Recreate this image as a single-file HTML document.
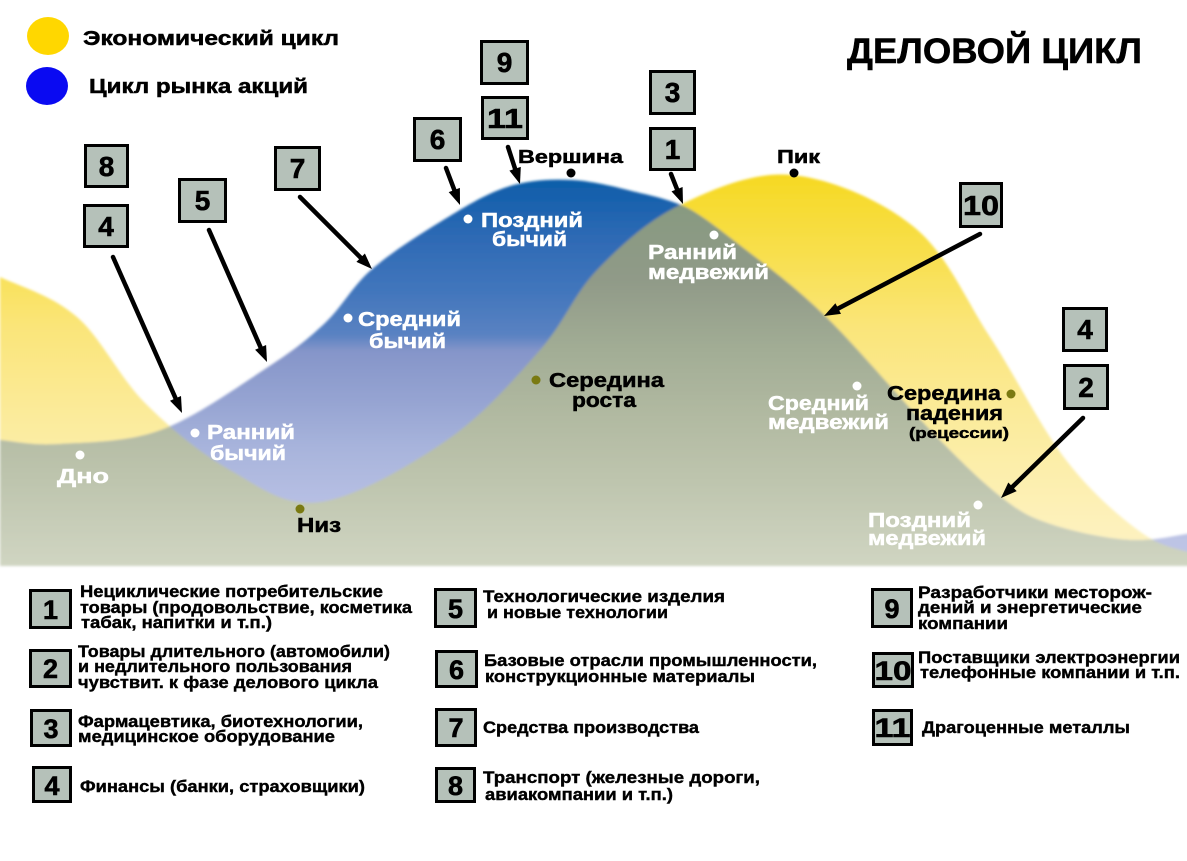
<!DOCTYPE html>
<html>
<head>
<meta charset="utf-8">
<style>
html,body{margin:0;padding:0;background:#fff;}
svg{display:block;}
text{font-family:"Liberation Sans","DejaVu Sans",sans-serif;font-weight:bold;}
</style>
</head>
<body>
<svg width="1187" height="861" viewBox="0 0 1187 861" xmlns="http://www.w3.org/2000/svg">
<defs>
  <linearGradient id="gy" gradientUnits="userSpaceOnUse" x1="0" y1="170" x2="0" y2="566">
    <stop offset="0" stop-color="#f6d820"/>
    <stop offset="0.2" stop-color="#f8df4a"/>
    <stop offset="0.4" stop-color="#fae57a"/>
    <stop offset="0.63" stop-color="#fbeb9c"/>
    <stop offset="0.83" stop-color="#fdf0b4"/>
    <stop offset="1" stop-color="#fdf3c6"/>
  </linearGradient>
  <linearGradient id="gb" gradientUnits="userSpaceOnUse" x1="0" y1="175" x2="0" y2="566">
    <stop offset="0" stop-color="#0a5ca8"/>
    <stop offset="0.15" stop-color="#2c69b4"/>
    <stop offset="0.3" stop-color="#4276bc"/>
    <stop offset="0.41" stop-color="#5a82c2"/>
    <stop offset="0.45" stop-color="#8595c9"/>
    <stop offset="0.58" stop-color="#96a4d2"/>
    <stop offset="0.7" stop-color="#a8b4dc"/>
    <stop offset="0.85" stop-color="#b8c0e4"/>
    <stop offset="1" stop-color="#c0c6e6"/>
  </linearGradient>
  <linearGradient id="gg" gradientUnits="userSpaceOnUse" x1="0" y1="200" x2="0" y2="566">
    <stop offset="0" stop-color="#879a80"/>
    <stop offset="0.22" stop-color="#909a88"/>
    <stop offset="0.41" stop-color="#a2ad95"/>
    <stop offset="0.6" stop-color="#b2baa2"/>
    <stop offset="0.77" stop-color="#bec5ae"/>
    <stop offset="1" stop-color="#d0d5c2"/>
  </linearGradient>
  <clipPath id="underBlue">
    <path d="M0,440 C20,442.3 33.2,445.7 60,444 C86.8,442.3 126.3,442.8 161,430 C195.7,417.2 240.7,384.8 268,367 C295.3,349.2 307.8,339.2 325,323 C342.2,306.8 351.8,286.8 371,270 C390.2,253.2 417.3,235.8 440,222 C462.7,208.2 485,194 507,187 C529,180 549.8,179 572,180 C594,181 622,188.5 640,193 C656,196.5 667,199.5 681,205 C697,211.5 718,228.3 742,247 C766.2,265.7 794.2,286 826,317 C857.8,348 903.8,403 933,433 C962.2,463 981.5,481.8 1001,497 C1020.5,512.2 1028.5,516.8 1050,524 C1071.5,531.2 1105,538.7 1130,540 C1155,541.3 1176.7,534.7 1200,532 L1200,566 L0,566 Z"/>
  </clipPath>
  <filter id="soft" x="-2%" y="-2%" width="104%" height="104%">
    <feGaussianBlur stdDeviation="1.3"/>
  </filter>
</defs>

<!-- chart areas -->
<g filter="url(#soft)">
  <path fill="url(#gy)" d="M0,277 C24.5,288.2 52.8,296 77,317 C101.2,338 119.5,377.5 145,403 C170.5,428.5 200.8,453.5 230,470 C259.2,486.5 283.8,507 320,502 C356.2,497 410.3,465.3 447,440 C483.7,414.7 515,378.3 540,350 C565,321.7 573.7,294.2 597,270 C620.3,245.8 647.5,220.8 680,205 C712.5,189.2 753,171.3 792,175 C831,178.7 881,200 914,227 C947,254 964.7,298.2 990,337 C1015.3,375.8 1040.7,427.3 1066,460 C1091.3,492.7 1119.7,517 1142,533 C1164.3,549 1180,548 1200,556 L1200,566 L0,566 Z"/>
  <path fill="url(#gb)" d="M0,440 C20,442.3 33.2,445.7 60,444 C86.8,442.3 126.3,442.8 161,430 C195.7,417.2 240.7,384.8 268,367 C295.3,349.2 307.8,339.2 325,323 C342.2,306.8 351.8,286.8 371,270 C390.2,253.2 417.3,235.8 440,222 C462.7,208.2 485,194 507,187 C529,180 549.8,179 572,180 C594,181 622,188.5 640,193 C656,196.5 667,199.5 681,205 C697,211.5 718,228.3 742,247 C766.2,265.7 794.2,286 826,317 C857.8,348 903.8,403 933,433 C962.2,463 981.5,481.8 1001,497 C1020.5,512.2 1028.5,516.8 1050,524 C1071.5,531.2 1105,538.7 1130,540 C1155,541.3 1176.7,534.7 1200,532 L1200,566 L0,566 Z"/>
  <path clip-path="url(#underBlue)" fill="url(#gg)" d="M0,277 C24.5,288.2 52.8,296 77,317 C101.2,338 119.5,377.5 145,403 C170.5,428.5 200.8,453.5 230,470 C259.2,486.5 283.8,507 320,502 C356.2,497 410.3,465.3 447,440 C483.7,414.7 515,378.3 540,350 C565,321.7 573.7,294.2 597,270 C620.3,245.8 647.5,220.8 680,205 C712.5,189.2 753,171.3 792,175 C831,178.7 881,200 914,227 C947,254 964.7,298.2 990,337 C1015.3,375.8 1040.7,427.3 1066,460 C1091.3,492.7 1119.7,517 1142,533 C1164.3,549 1180,548 1200,556 L1200,566 L0,566 Z"/>
</g>

<!-- legend circles -->
<ellipse cx="48" cy="36" rx="21" ry="19" fill="#ffd700"/>
<ellipse cx="47" cy="86" rx="21" ry="19" fill="#0a0af2"/>
<g fill="#000" stroke="#000" stroke-width="0.5">
<text x="83" y="45" font-size="20" textLength="256" lengthAdjust="spacingAndGlyphs">Экономический цикл</text>
<text x="89" y="93" font-size="20" textLength="219" lengthAdjust="spacingAndGlyphs">Цикл рынка акций</text>
<text x="847" y="63" font-size="35" textLength="295" lengthAdjust="spacingAndGlyphs">ДЕЛОВОЙ ЦИКЛ</text>
</g>

<!-- arrows -->
<g stroke="#000" stroke-width="4.5" stroke-linecap="round">
  <line x1="113" y1="257" x2="177.2" y2="402"/>
  <line x1="209" y1="230" x2="262.2" y2="351"/>
  <line x1="300" y1="197" x2="363.5" y2="260.5"/>
  <line x1="446" y1="168" x2="455.8" y2="193.8"/>
  <line x1="508" y1="147" x2="516.3" y2="172.6"/>
  <line x1="671" y1="174" x2="678.5" y2="192.9"/>
  <line x1="980" y1="234" x2="834.6" y2="310.4"/>
  <line x1="1083" y1="418" x2="1009.6" y2="489.6"/>
</g>
<g fill="#000">
  <polygon points="182,413 170,400.8 181,396"/>
  <polygon points="267,362 255.1,349.8 266.1,345"/>
  <polygon points="372,269 356.4,261.9 364.9,253.5"/>
  <polygon points="460,205 448.7,192.1 459.9,187.9"/>
  <polygon points="520,184 509.4,170.6 520.8,166.9"/>
  <polygon points="683,204 671.5,191.4 682.6,187"/>
  <polygon points="824,316 835.4,303.3 841,313.9"/>
  <polygon points="1001,498 1008.3,482.5 1016.7,491.1"/>
</g>

<!-- top number boxes -->
<g fill="#b5c1b9" stroke="#000" stroke-width="3">
  <rect x="85.5" y="145.5" width="42" height="41"/>
  <rect x="84.5" y="205.5" width="43" height="41"/>
  <rect x="179.5" y="179.5" width="46" height="42"/>
  <rect x="275.5" y="147.5" width="44" height="42"/>
  <rect x="414.5" y="118.5" width="46" height="42"/>
  <rect x="481.5" y="41.5" width="46" height="42"/>
  <rect x="482.5" y="97.5" width="45" height="41"/>
  <rect x="650.5" y="71.5" width="44" height="42"/>
  <rect x="650.5" y="128.5" width="44" height="41"/>
  <rect x="960.5" y="183.5" width="41" height="43"/>
  <rect x="1063.5" y="308.5" width="43" height="42"/>
  <rect x="1064.5" y="365.5" width="43" height="43"/>
</g>
<g font-size="28" text-anchor="middle" stroke="#000" stroke-width="0.6">
  <text x="106.5" y="176">8</text>
  <text x="106" y="236">4</text>
  <text x="202.5" y="210">5</text>
  <text x="297.5" y="178">7</text>
  <text x="437.5" y="149">6</text>
  <text x="504.5" y="72">9</text>
  <text x="505" y="128" textLength="36" lengthAdjust="spacingAndGlyphs">11</text>
  <text x="672.5" y="102">3</text>
  <text x="672.5" y="159">1</text>
  <text x="981" y="215" textLength="36" lengthAdjust="spacingAndGlyphs">10</text>
  <text x="1085" y="339">4</text>
  <text x="1086" y="397">2</text>
</g>

<!-- dots -->
<g fill="#fff">
  <circle cx="80" cy="455" r="4.5"/>
  <circle cx="195" cy="433" r="4.5"/>
  <circle cx="348" cy="318" r="4.5"/>
  <circle cx="468" cy="219" r="4.5"/>
  <circle cx="714" cy="235" r="4.5"/>
  <circle cx="857" cy="386" r="4.5"/>
  <circle cx="978" cy="505" r="4.5"/>
</g>
<g fill="#7a7a12">
  <circle cx="300" cy="509" r="4.5"/>
  <circle cx="536" cy="380" r="4.5"/>
  <circle cx="1011" cy="394" r="4.5"/>
</g>
<g fill="#000">
  <circle cx="571" cy="173" r="4.5"/>
  <circle cx="794" cy="173" r="4.5"/>
</g>

<!-- chart labels white -->
<g fill="#fff" stroke="#fff" stroke-width="0.5" font-size="20">
  <text x="57" y="483" textLength="52" lengthAdjust="spacingAndGlyphs">Дно</text>
  <text x="207" y="439" textLength="88" lengthAdjust="spacingAndGlyphs">Ранний</text>
  <text x="210" y="460" textLength="76" lengthAdjust="spacingAndGlyphs">бычий</text>
  <text x="358" y="326" textLength="103" lengthAdjust="spacingAndGlyphs">Средний</text>
  <text x="369" y="348" textLength="77" lengthAdjust="spacingAndGlyphs">бычий</text>
  <text x="481" y="227" textLength="102" lengthAdjust="spacingAndGlyphs">Поздний</text>
  <text x="492" y="246" textLength="75" lengthAdjust="spacingAndGlyphs">бычий</text>
  <text x="648" y="259" textLength="89" lengthAdjust="spacingAndGlyphs">Ранний</text>
  <text x="648" y="279" textLength="121" lengthAdjust="spacingAndGlyphs">медвежий</text>
  <text x="768" y="410" textLength="101" lengthAdjust="spacingAndGlyphs">Средний</text>
  <text x="768" y="429" textLength="121" lengthAdjust="spacingAndGlyphs">медвежий</text>
  <text x="868" y="527" textLength="103" lengthAdjust="spacingAndGlyphs">Поздний</text>
  <text x="868" y="545" textLength="118" lengthAdjust="spacingAndGlyphs">медвежий</text>
</g>
<!-- chart labels black -->
<g fill="#000" stroke="#000" stroke-width="0.5">
  <text x="518" y="163" font-size="18" textLength="105" lengthAdjust="spacingAndGlyphs">Вершина</text>
  <text x="777" y="163" font-size="18" textLength="43" lengthAdjust="spacingAndGlyphs">Пик</text>
  <text x="297" y="532" font-size="20" textLength="44" lengthAdjust="spacingAndGlyphs">Низ</text>
  <text x="549" y="387" font-size="20" textLength="115" lengthAdjust="spacingAndGlyphs">Середина</text>
  <text x="572" y="407" font-size="20" textLength="64" lengthAdjust="spacingAndGlyphs">роста</text>
  <text x="887" y="400" font-size="20" textLength="114" lengthAdjust="spacingAndGlyphs">Середина</text>
  <text x="906" y="420" font-size="20" textLength="97" lengthAdjust="spacingAndGlyphs">падения</text>
  <text x="909" y="438" font-size="15" textLength="100" lengthAdjust="spacingAndGlyphs">(рецессии)</text>
</g>

<!-- bottom legend boxes -->
<g fill="#b5c1b9" stroke="#000" stroke-width="3">
  <rect x="30.5" y="590.5" width="40" height="37"/>
  <rect x="30.5" y="650.5" width="40" height="36"/>
  <rect x="31.5" y="710.5" width="39" height="35"/>
  <rect x="33.5" y="767.5" width="37" height="34"/>
  <rect x="435.5" y="589.5" width="40" height="37"/>
  <rect x="436.5" y="651.5" width="40" height="35"/>
  <rect x="436.5" y="709.5" width="39" height="36"/>
  <rect x="436.5" y="768.5" width="38" height="33"/>
  <rect x="872.5" y="589.5" width="39" height="37"/>
  <rect x="873.5" y="653.5" width="39" height="33"/>
  <rect x="873.5" y="710.5" width="38" height="34"/>
</g>
<g font-size="27" text-anchor="middle" stroke="#000" stroke-width="0.6">
  <text x="50.5" y="619">1</text>
  <text x="50.5" y="678">2</text>
  <text x="51" y="738">3</text>
  <text x="52" y="795">4</text>
  <text x="455.5" y="618">5</text>
  <text x="456.5" y="679">6</text>
  <text x="456" y="737">7</text>
  <text x="455.5" y="795">8</text>
  <text x="892" y="618">9</text>
  <text x="893" y="680" textLength="37" lengthAdjust="spacingAndGlyphs">10</text>
  <text x="892.5" y="737" textLength="36" lengthAdjust="spacingAndGlyphs">11</text>
</g>

<!-- legend texts -->
<g fill="#000" stroke="#000" stroke-width="0.4" font-size="17">
  <text x="80" y="597" textLength="303" lengthAdjust="spacingAndGlyphs">Нециклические потребительские</text>
  <text x="80" y="613" textLength="332" lengthAdjust="spacingAndGlyphs">товары (продовольствие, косметика</text>
  <text x="81" y="628" textLength="191" lengthAdjust="spacingAndGlyphs">табак, напитки и т.п.)</text>

  <text x="78" y="657" textLength="312" lengthAdjust="spacingAndGlyphs">Товары длительного (автомобили)</text>
  <text x="78" y="672" textLength="274" lengthAdjust="spacingAndGlyphs">и недлительного пользования</text>
  <text x="78" y="688" textLength="300" lengthAdjust="spacingAndGlyphs">чувствит. к фазе делового цикла</text>

  <text x="78" y="727" textLength="285" lengthAdjust="spacingAndGlyphs">Фармацевтика, биотехнологии,</text>
  <text x="78" y="742" textLength="257" lengthAdjust="spacingAndGlyphs">медицинское оборудование</text>

  <text x="80" y="792" textLength="285" lengthAdjust="spacingAndGlyphs">Финансы (банки, страховщики)</text>

  <text x="483" y="602" textLength="242" lengthAdjust="spacingAndGlyphs">Технологические изделия</text>
  <text x="487" y="618" textLength="181" lengthAdjust="spacingAndGlyphs">и новые технологии</text>

  <text x="484" y="666" textLength="333" lengthAdjust="spacingAndGlyphs">Базовые отрасли промышленности,</text>
  <text x="485" y="682" textLength="270" lengthAdjust="spacingAndGlyphs">конструкционные материалы</text>

  <text x="483" y="733" textLength="216" lengthAdjust="spacingAndGlyphs">Средства производства</text>

  <text x="483" y="783" textLength="277" lengthAdjust="spacingAndGlyphs">Транспорт (железные дороги,</text>
  <text x="485" y="800" textLength="188" lengthAdjust="spacingAndGlyphs">авиакомпании и т.п.)</text>

  <text x="918" y="598" textLength="234" lengthAdjust="spacingAndGlyphs">Разработчики месторож-</text>
  <text x="918" y="613" textLength="224" lengthAdjust="spacingAndGlyphs">дений и энергетические</text>
  <text x="918" y="629" textLength="90" lengthAdjust="spacingAndGlyphs">компании</text>

  <text x="918" y="663" textLength="262" lengthAdjust="spacingAndGlyphs">Поставщики электроэнергии</text>
  <text x="920" y="678" textLength="260" lengthAdjust="spacingAndGlyphs">телефонные компании и т.п.</text>

  <text x="922" y="733" textLength="208" lengthAdjust="spacingAndGlyphs">Драгоценные металлы</text>
</g>
</svg>
</body>
</html>
